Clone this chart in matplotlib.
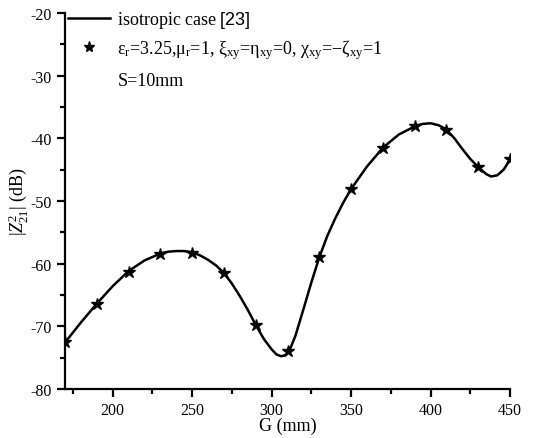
import numpy as np
import matplotlib.pyplot as plt
from matplotlib.lines import Line2D

plt.rcParams['font.family'] = ['Liberation Serif', 'DejaVu Serif']
plt.rcParams['mathtext.fontset'] = 'custom'
plt.rcParams['mathtext.rm'] = 'Liberation Serif'
plt.rcParams['mathtext.it'] = 'Liberation Serif:italic'
plt.rcParams['mathtext.sf'] = 'Liberation Sans'
plt.rcParams['axes.unicode_minus'] = False

# isotropic case [23] (solid line)
g_line = [170, 180, 190, 200, 210, 220, 230, 235, 240, 245, 250, 255, 260, 265,
          270, 275, 280, 285, 290, 295, 300, 303, 306, 309, 312, 315, 320, 325,
          330, 335, 340, 345, 350, 360, 370, 380, 390, 395, 400, 405, 410, 415,
          420, 425, 430, 435, 438, 442, 446, 450]
z_line = [-72.6, -69.4, -66.4, -63.6, -61.2, -59.5, -58.4, -58.1, -58.0, -58.0,
          -58.2, -58.7, -59.4, -60.3, -61.5, -63.2, -65.2, -67.4, -69.8, -72.0,
          -73.7, -74.5, -74.8, -74.6, -73.4, -71.5, -67.3, -63.0, -59.0, -55.6,
          -52.8, -50.3, -48.1, -44.5, -41.5, -39.4, -38.1, -37.7, -37.6, -37.9,
          -38.6, -40.0, -41.7, -43.3, -44.6, -45.7, -46.1, -45.9, -45.0, -43.4]

# bianisotropic case (stars)
g_star = [170, 190, 210, 230, 250, 270, 290, 310, 330, 350, 370, 390, 410, 430, 450]
z_star = [-72.5, -66.5, -61.3, -58.4, -58.3, -61.5, -69.8, -74.0, -59.0, -48.1,
          -41.5, -38.1, -38.6, -44.6, -43.3]

fig = plt.figure(figsize=(5.42, 4.39), dpi=100)
ax = fig.add_axes([0.12, 0.112, 0.821, 0.856])

ax.plot(g_line, z_line, color='black', linewidth=1.8)
ax.plot(g_star, z_star, linestyle='none', marker='*', color='black', markersize=9)

ax.set_xlim(170, 450)
ax.set_ylim(-80, -20)
ax.set_xticks([200, 250, 300, 350, 400, 450])
ax.set_xticks(np.arange(175, 451, 25), minor=True)
ax.set_yticks([-80, -70, -60, -50, -40, -30, -20])
ax.set_yticks(np.arange(-75, -20, 10), minor=True)

for s in ['top', 'right']:
    ax.spines[s].set_visible(False)
for s in ['left', 'bottom']:
    ax.spines[s].set_linewidth(1.6)
ax.tick_params(which='major', direction='out', length=6, width=1.6, labelsize=11.5)
ax.tick_params(which='minor', direction='out', length=3.5, width=1.6)

ax.set_xlabel('G (mm)', fontsize=13, labelpad=-1)
ax.set_ylabel(r'$|Z^{2}_{21}|$ (dB)', fontsize=13, labelpad=0)

handles = [
    Line2D([], [], color='black', linewidth=1.8),
    Line2D([], [], linestyle='none', marker='*', color='black', markersize=8),
]
labels = [
    r'isotropic case $\mathsf{[23]}$',
    r'ε$_\mathrm{r}$=3.25,μ$_\mathrm{r}$=1, ξ$_\mathrm{xy}$=η$_\mathrm{xy}$=0, χ$_\mathrm{xy}$=−ζ$_\mathrm{xy}$=1',
]
ax.legend(handles, labels, loc='upper left',
          bbox_to_anchor=(68 / 542, 1 - 10 / 439), bbox_transform=fig.transFigure,
          frameon=False, fontsize=13, handlelength=2.3, labelspacing=0.4,
          handletextpad=0.4, borderpad=0, borderaxespad=0)
fig.text(118 / 542, 1 - 82 / 439, 'S=10mm', fontsize=13, va='center', ha='left')

plt.savefig('out.png', dpi=100)
